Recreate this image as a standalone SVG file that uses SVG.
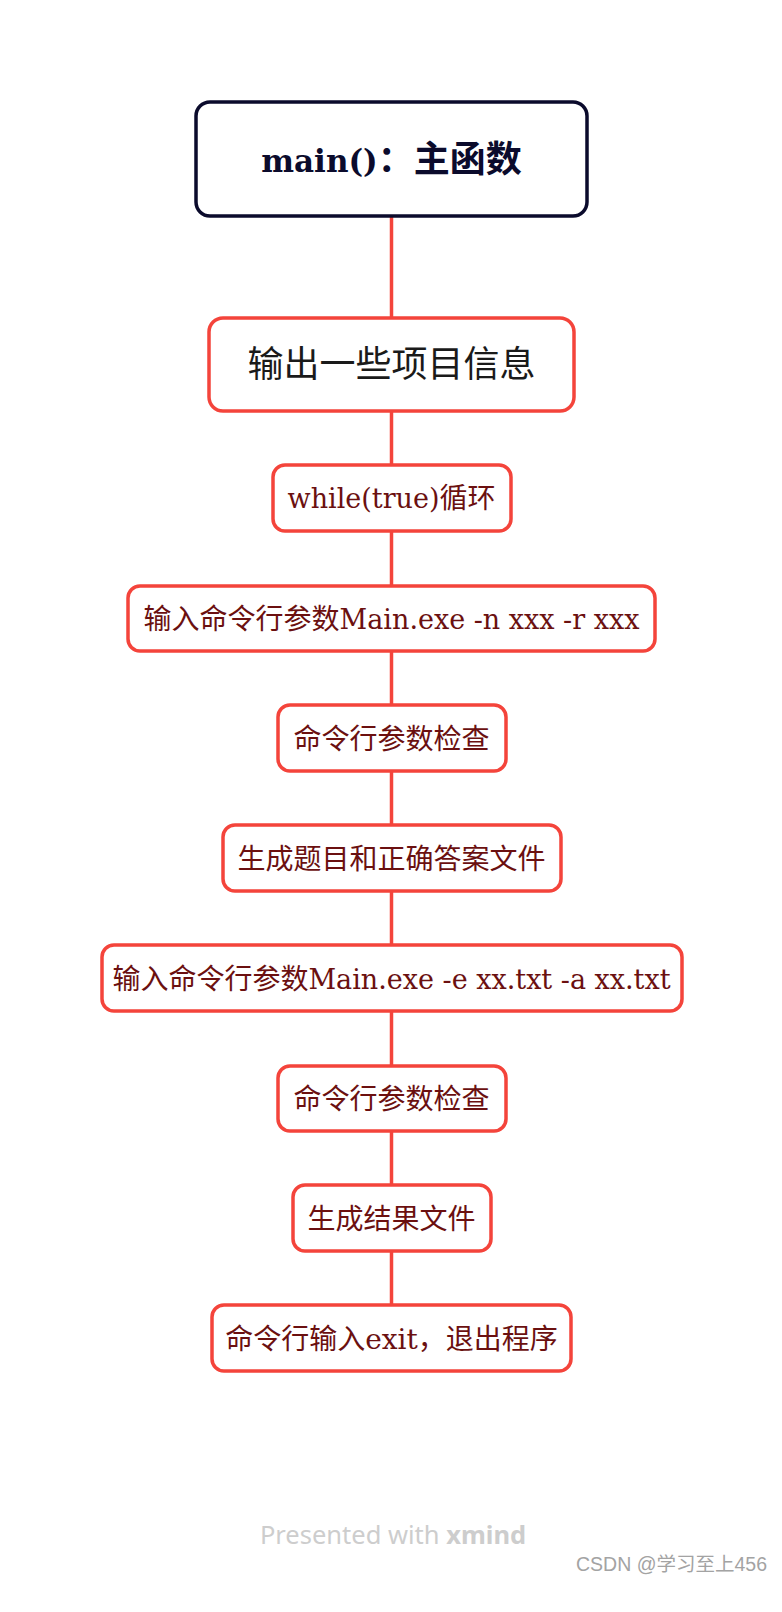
<svg xmlns="http://www.w3.org/2000/svg" width="782" height="1612" viewBox="0 0 782 1612">
<style>
.node{fill:#ffffff;stroke:#f4443b;stroke-width:3.5}
.root{fill:#ffffff;stroke:#0b0b2c;stroke-width:3.5}
.lbl{font-family:"DejaVu Serif","Noto Sans CJK SC",serif;font-size:28px;fill:#6b1010;text-anchor:middle}
.lat{font-size:27px}
.conn line{stroke:#f4443b;stroke-width:3.5}
</style>
<rect width="782" height="1612" fill="#ffffff"/>
<g id="connectors" class="conn">
<line x1="391.5" y1="216" x2="391.5" y2="318"/>
<line x1="391.5" y1="411" x2="391.5" y2="465"/>
<line x1="391.5" y1="531" x2="391.5" y2="586"/>
<line x1="391.5" y1="651" x2="391.5" y2="705"/>
<line x1="391.5" y1="771" x2="391.5" y2="825"/>
<line x1="391.5" y1="891" x2="391.5" y2="945"/>
<line x1="391.5" y1="1011" x2="391.5" y2="1066"/>
<line x1="391.5" y1="1131" x2="391.5" y2="1185"/>
<line x1="391.5" y1="1251" x2="391.5" y2="1305"/>
</g>
<g id="main">
<rect class="root" x="196" y="102" width="391" height="114" rx="14"/>
<text x="391.5" y="172" text-anchor="middle" font-family="'DejaVu Serif','Noto Sans CJK SC',serif" font-weight="bold" font-size="36" fill="#0b0b2c"><tspan font-size="31">main()</tspan>：主函数</text>
</g>
<g id="info">
<rect class="node" x="209" y="318" width="365" height="93" rx="14"/>
<text x="391.5" y="377" text-anchor="middle" font-family="'Noto Sans CJK SC',sans-serif" font-size="36" fill="#1a1a1a">输出一些项目信息</text>
</g>
<g id="while">
<rect class="node" x="273" y="465" width="238" height="66" rx="12"/>
<text class="lbl" x="391.5" y="508"><tspan class="lat" font-size="26.5">while(true)</tspan>循环</text>
</g>
<g id="input1">
<rect class="node" x="128" y="586" width="527" height="65" rx="12"/>
<text class="lbl" x="391.5" y="629">输入命令行参数<tspan class="lat">Main.exe -n xxx -r xxx</tspan></text>
</g>
<g id="check1">
<rect class="node" x="278" y="705" width="228" height="66" rx="12"/>
<text class="lbl" x="391.5" y="748.5">命令行参数检查</text>
</g>
<g id="gen">
<rect class="node" x="223" y="825" width="338" height="66" rx="12"/>
<text class="lbl" x="391.5" y="868.5">生成题目和正确答案文件</text>
</g>
<g id="input2">
<rect class="node" x="102" y="945" width="580" height="66" rx="12"/>
<text class="lbl" x="391.5" y="988.5">输入命令行参数<tspan class="lat">Main.exe -e xx.txt -a xx.txt</tspan></text>
</g>
<g id="check2">
<rect class="node" x="278" y="1066" width="228" height="65" rx="12"/>
<text class="lbl" x="391.5" y="1109">命令行参数检查</text>
</g>
<g id="result">
<rect class="node" x="293" y="1185" width="198" height="66" rx="12"/>
<text class="lbl" x="391.5" y="1228.5">生成结果文件</text>
</g>
<g id="exit">
<rect class="node" x="212" y="1305" width="359" height="66" rx="12"/>
<text class="lbl" x="391.5" y="1348.5">命令行输入exit，退出程序</text>
</g>
<g id="footer">
<text x="393" y="1544" text-anchor="middle" font-family="'Noto Sans',sans-serif" font-size="25.5" fill="#cdcdcd">Presented with <tspan font-weight="bold">xmind</tspan></text>
<text x="767" y="1571" text-anchor="end" font-family="'Liberation Sans','Noto Sans CJK SC',sans-serif" font-size="19.5" fill="#a3a3a3">CSDN @学习至上456</text>
</g>
</svg>
